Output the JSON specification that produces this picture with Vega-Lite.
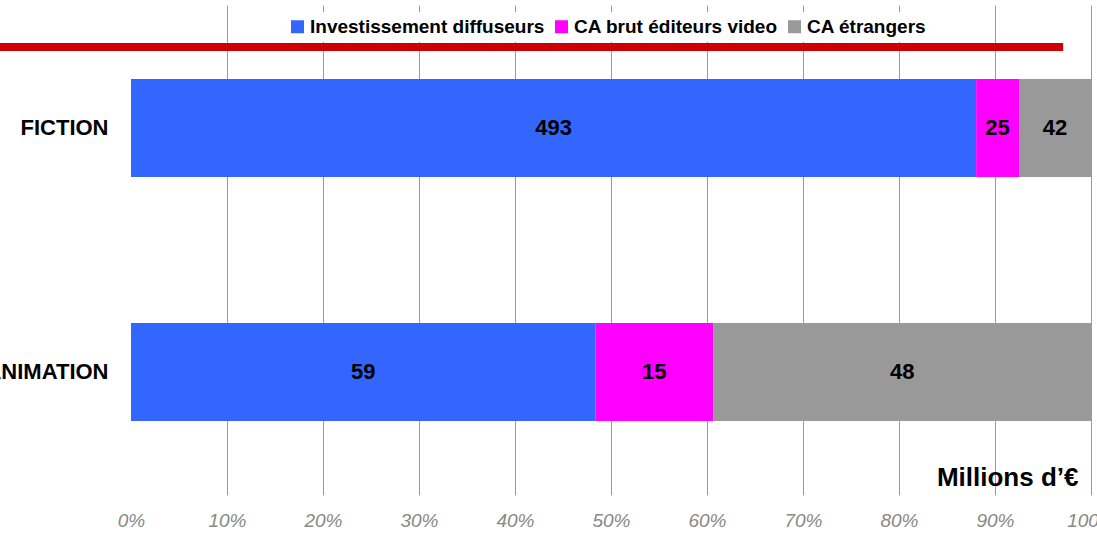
{
  "$schema": "https://vega.github.io/schema/vega-lite/v6.json",
  "width": 960,
  "height": 490,
  "autosize": {"type": "none"},
  "padding": {"left": 131, "top": 5, "right": 6, "bottom": 38},
  "background": "white",
  "config": {"view": {"stroke": null}, "font": "Liberation Sans"},
  "data": {"values": [
    {"genre": "FICTION", "source": "Investissement diffuseurs", "rang": 1, "montant": 493},
    {"genre": "FICTION", "source": "CA brut éditeurs video", "rang": 2, "montant": 25},
    {"genre": "FICTION", "source": "CA étrangers", "rang": 3, "montant": 42},
    {"genre": "ANIMATION", "source": "Investissement diffuseurs", "rang": 1, "montant": 59},
    {"genre": "ANIMATION", "source": "CA brut éditeurs video", "rang": 2, "montant": 15},
    {"genre": "ANIMATION", "source": "CA étrangers", "rang": 3, "montant": 48}
  ]},
  "layer": [
    {
      "data": {"values": [{}]},
      "mark": {"type": "rule", "color": "#CC0000", "strokeWidth": 8, "yOffset": -81},
      "encoding": {
        "x": {"datum": -0.1365, "type": "quantitative"},
        "x2": {"datum": 0.971},
        "y": {"datum": "FICTION", "type": "nominal"}
      }
    },
    {
      "mark": {"type": "bar"},
      "encoding": {
        "y": {
          "field": "genre", "type": "nominal", "sort": ["FICTION", "ANIMATION"],
          "scale": {"paddingInner": 0.598, "paddingOuter": 0.303},
          "axis": {"title": null, "domain": false, "ticks": false, "grid": false, "labelFontSize": 22, "labelFontWeight": "bold", "labelColor": "black", "labelPadding": 23, "labelLimit": 400}
        },
        "x": {
          "field": "montant", "type": "quantitative", "stack": "normalize",
          "scale": {"domain": [0, 1]},
          "axis": {
            "format": ".0%", "values": [0, 0.1, 0.2, 0.3, 0.4, 0.5, 0.6, 0.7, 0.8, 0.9, 1],
            "grid": true,
            "gridColor": {"condition": {"test": "datum.value === 0", "value": "white"}, "value": "#9a9a9a"},
            "gridWidth": 1,
            "domain": false, "ticks": false,
            "labelFontStyle": "italic", "labelFontSize": 19, "labelColor": "#888888", "labelPadding": 16,
            "labelFlush": false, "labelOverlap": false,
            "title": "Millions d’€", "titleFontSize": 26, "titleFontWeight": "bold", "titleColor": "black",
            "titleX": 947, "titleY": -18, "titleAlign": "right", "titleBaseline": "middle", "titleAnchor": null
          }
        },
        "color": {
          "field": "source", "type": "nominal",
          "scale": {"domain": ["Investissement diffuseurs", "CA brut éditeurs video", "CA étrangers"], "range": ["#3366FF", "#FF00FF", "#999999"]},
          "legend": {
            "title": null, "orient": "none", "legendX": 152, "legendY": 7, "direction": "horizontal", "columns": 3,
            "fillColor": "white", "padding": 5, "symbolType": "square", "symbolSize": 169, "symbolStrokeWidth": 0,
            "labelFontSize": 19, "labelFontWeight": "bold", "labelColor": "black", "labelOffset": 3, "columnPadding": 7, "labelLimit": 400
          }
        },
        "order": {"field": "rang", "type": "quantitative"}
      }
    },
    {
      "mark": {"type": "text", "fontSize": 22, "fontWeight": "bold", "color": "black", "baseline": "middle", "align": "center"},
      "encoding": {
        "y": {"field": "genre", "type": "nominal", "sort": ["FICTION", "ANIMATION"]},
        "x": {"field": "montant", "type": "quantitative", "stack": "normalize", "bandPosition": 0.5},
        "detail": {"field": "source", "type": "nominal"},
        "order": {"field": "rang", "type": "quantitative"},
        "text": {"field": "montant", "type": "quantitative"}
      }
    }
  ]
}
